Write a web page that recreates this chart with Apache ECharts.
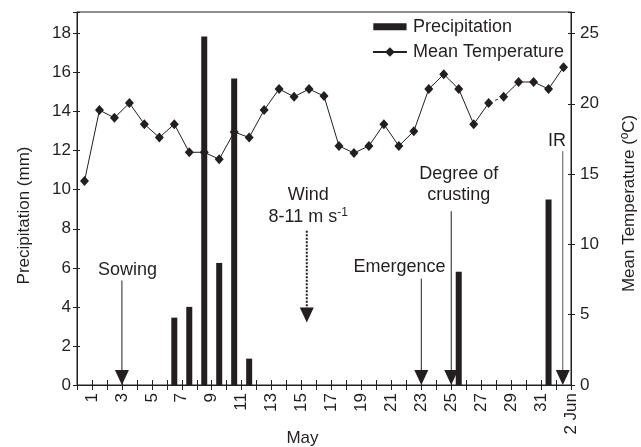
<!DOCTYPE html>
<html><head><meta charset="utf-8">
<script src="https://cdn.jsdelivr.net/npm/echarts@6/dist/echarts.min.js"></script>
<style>html,body{margin:0;padding:0;background:#fff}#c{width:641px;height:447px}</style>
</head><body><div id="c"></div>
<script>
// ---- data ----
const days = ['1','2','3','4','5','6','7','8','9','10','11','12','13','14','15','16','17','18','19','20','21','22','23','24','25','26','27','28','29','30','31','1 Jun','2 Jun'];
const precipitation = [0,0,0,0,0,0,3.45,4.0,17.85,6.25,15.7,1.35,0,0,0,0,0,0,0,0,0,0,0,0,0,5.8,0,0,0,0,0,9.5,0];
const temperature = [14.5,19.55,19.0,20.05,18.55,17.6,18.55,16.55,16.55,16.05,18.0,17.6,19.55,21.05,20.5,21.05,20.55,17.0,16.5,17.0,18.55,17.0,18.05,21.05,22.1,21.05,18.55,20.05,20.5,21.55,21.55,21.05,22.6];
const gapStart = 27; // dashed segment between these two days
const precipMax = 19.1, precipInterval = 2;
const tempMax = precipMax * 25 / 18, tempInterval = 5;
// annotations: x in day units on the boundary axis, y values in mm
const annotations = [
  {lines:['Sowing'], x:3, top:5.35, tip:0, tx:3.37, ty:[5.9]},
  {lines:['Wind','8-11 m s{sup|-1}'], x:15.35, top:7.9, tip:3.2, tx:15.45, ty:[9.75,8.62], dotted:true},
  {lines:['Emergence'], x:23, top:5.45, tip:0, tx:21.54, ty:[6.06]},
  {lines:['Degree of','crusting'], x:25, top:8.9, tip:0, tx:25.5, ty:[10.81,9.71]},
  {lines:['IR'], x:32.45, top:11.97, tip:0, tx:32.06, ty:[12.48], gray:true}
];

const INK = '#231f20';
const FONT = '"Liberation Sans", Arial, sans-serif';

const chart = echarts.init(document.getElementById('c'), null, {renderer:'canvas'});
const tempA = temperature.map((v,i)=> i<=gapStart ? v : null);
const tempB = temperature.map((v,i)=> i>gapStart ? v : null);
const tempC = temperature.map((v,i)=> (i===gapStart||i===gapStart+1) ? v : null);

const option = {
  animation:false,
  backgroundColor:'#fff',
  textStyle:{fontFamily:FONT},
  grid:{left:77, right:70, top:12, bottom:62, show:true, borderColor:INK, borderWidth:1, backgroundColor:'transparent'},
  legend:{
    orient:'vertical', right:77, top:18, padding:0, itemGap:7, itemWidth:34, itemHeight:12,
    align:'left',
    textStyle:{fontSize:18, color:INK, fontFamily:FONT, padding:[0,0,0,1]},
    data:[{name:'Precipitation', icon:'path://M0,0 L0.01,0 M0,2.5 L36,2.5 L36,10 L0,10 Z M0,13 L0.01,13'}, {name:'Mean Temperature'}]
  },
  xAxis:[
    {type:'category', data:days, boundaryGap:true, position:'bottom',
     axisLine:{show:true, onZero:false, lineStyle:{color:INK, width:1}},
     axisTick:{show:true, inside:true, length:5, interval:0, lineStyle:{color:INK}},
     axisLabel:{show:false}, splitLine:{show:false}},
    {type:'value', min:0, max:days.length, interval:1, position:'bottom',
     axisLine:{show:false, onZero:false},
     axisTick:{show:true, length:5, lineStyle:{color:INK}},
     axisLabel:{rotate:90, margin:8, fontSize:17, color:INK, fontFamily:FONT,
       formatter:(v)=>{ const i = Math.round(v)-1; return (i>=0 && i%2===0 && i<days.length) ? days[i] : ''; }},
     splitLine:{show:false}}
  ],
  yAxis:[
    {type:'value', min:0, max:precipMax, interval:precipInterval, position:'left',
     axisLine:{show:true, onZero:false, lineStyle:{color:INK}},
     axisTick:{show:true, length:4, lineStyle:{color:INK}},
     axisLabel:{margin:6, fontSize:17, color:INK, fontFamily:FONT, formatter:(v)=> (v%precipInterval===0 ? String(v) : '')},
     splitLine:{show:false}},
    {type:'value', min:0, max:tempMax, interval:tempInterval, position:'right',
     axisLine:{show:true, onZero:false, lineStyle:{color:INK}},
     axisTick:{show:true, length:4, lineStyle:{color:INK}},
     axisLabel:{margin:9, fontSize:17, color:INK, fontFamily:FONT, formatter:(v)=> (v%tempInterval===0 ? String(v) : '')},
     splitLine:{show:false}},
    {type:'value', min:0, max:precipMax, interval:precipInterval, position:'left',
     axisLine:{show:false, onZero:false}, axisTick:{show:true, inside:true, length:3, lineStyle:{color:INK}},
     axisLabel:{show:false}, splitLine:{show:false}},
    {type:'value', min:0, max:tempMax, interval:tempInterval, position:'right',
     axisLine:{show:false, onZero:false}, axisTick:{show:true, inside:true, length:3, lineStyle:{color:INK}},
     axisLabel:{show:false}, splitLine:{show:false}}
  ],
  series:[
    {name:'Precipitation', type:'bar', xAxisIndex:0, yAxisIndex:0, data:precipitation, barWidth:6,
     itemStyle:{color:INK}, z:3},
    {name:'Mean Temperature', type:'line', xAxisIndex:0, yAxisIndex:1, data:tempA, symbol:'diamond', symbolSize:[9,10],
     showAllSymbol:true, connectNulls:false, lineStyle:{color:INK, width:1}, itemStyle:{color:INK}, z:4},
    {name:'Mean Temperature', type:'line', xAxisIndex:0, yAxisIndex:1, data:tempB, symbol:'diamond', symbolSize:[9,10],
     showAllSymbol:true, connectNulls:false, lineStyle:{color:INK, width:1}, itemStyle:{color:INK}, z:4},
    {name:'gap', type:'line', xAxisIndex:0, yAxisIndex:1, data:tempC, showSymbol:false, symbol:'none',
     lineStyle:{color:INK, width:1, type:[3,4]}, z:4}
  ]
};
chart.setOption(option);

function px(x, y){ return chart.convertToPixel({xAxisIndex:1, yAxisIndex:0}, [x, y]); }
const g = [];
const headW = 14, headH = 15;
annotations.forEach(a=>{
  const p1 = px(a.x, a.top), p2 = px(a.x, a.tip);
  g.push({type:'line', silent:true, z:10, shape:{x1:p1[0], y1:p1[1], x2:p2[0], y2:p2[1]-4},
    style:{stroke: a.gray ? '#555' : INK, lineWidth: a.dotted ? 2 : 1, lineDash: a.dotted ? [2,1.5] : null}});
  g.push({type:'polygon', silent:true, z:10, shape:{points:[[p2[0]-headW/2, p2[1]-headH],[p2[0]+headW/2, p2[1]-headH],[p2[0], p2[1]]]},
    style:{fill:INK}});
  a.lines.forEach((t,k)=>{
    const tp = px(a.tx, a.ty[k]);
    g.push({type:'text', silent:true, z:10, x:tp[0], y:tp[1],
      style:{text:t, font:'18px '+FONT, fill:INK, align:'center', verticalAlign:'middle',
        rich:{sup:{fontSize:12, fontFamily:FONT, fill:INK, verticalAlign:'top', padding:[0,0,8,0]}}}});
  });
});
// axis titles
g.push({type:'text', silent:true, x:24, y:215.5, rotation:Math.PI/2,
  style:{text:'Precipitation (mm)', font:'17px '+FONT, fill:INK, align:'center', verticalAlign:'middle'}});
g.push({type:'text', silent:true, x:629, y:203.5, rotation:Math.PI/2,
  style:{text:'Mean Temperature (ºC)', font:'17px '+FONT, fill:INK, align:'center', verticalAlign:'middle'}});
g.push({type:'text', silent:true, x:302.5, y:438,
  style:{text:'May', font:'17px '+FONT, fill:INK, align:'center', verticalAlign:'middle'}});
chart.setOption({graphic:g});
</script>
</body></html>
